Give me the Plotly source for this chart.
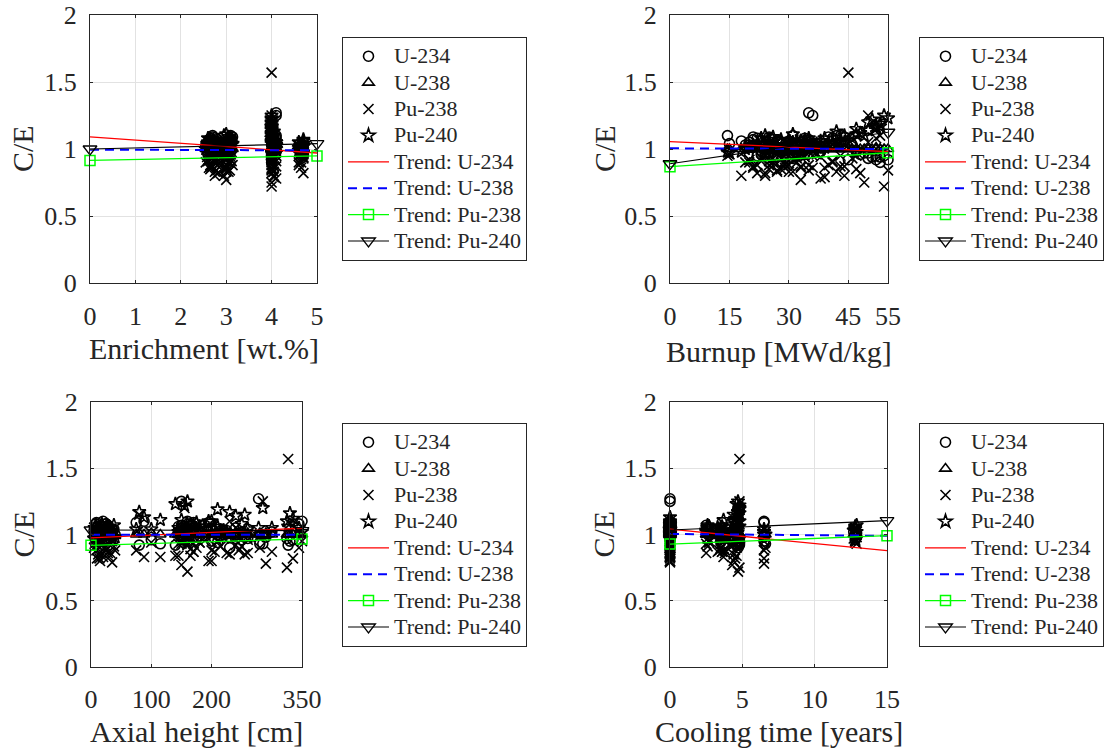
import plotly.graph_objects as go

# ---------------- data (shared samples) ----------------
enrichment = [2.6, 2.65, 2.7, 2.75, 2.8, 2.6, 2.7, 2.65, 2.8, 2.7, 2.75, 2.6, 2.8,
              3.0, 3.05, 3.1, 3.0, 2.95, 3.1, 3.0, 3.05, 3.0, 3.1, 3.0,
              4.0, 4.0, 4.1, 4.1, 4.0, 4.0, 4.0, 4.05, 4.0, 4.1, 4.0, 4.0, 4.0, 4.05, 4.0, 4.0, 4.1, 4.0, 4.0,
              4.6, 4.7, 4.65, 4.7, 4.6, 4.7, 4.65,
              2.7, 3.0,
              2.55, 2.62, 2.68, 2.72, 2.78, 2.85, 2.58, 2.66, 2.74, 2.82,
              2.92, 3.02, 3.08, 3.12, 2.98, 3.04, 3.14,
              4.0, 4.05, 4.0, 4.1, 4.0, 4.05, 4.0, 4.1, 4.0,
              4.6, 4.7, 4.65, 4.7]
burnup = [20, 22, 24, 18, 26, 28, 30, 25, 32, 21, 27, 23, 35,
          33, 30, 31, 29, 24, 34, 36, 26, 31, 37, 28,
          45, 54, 36, 35, 50, 52, 48, 42, 41, 43, 51, 53, 47, 44, 40, 49, 38, 55, 39,
          25, 28, 32, 22, 30, 34, 26,
          14.5, 15,
          19, 21, 23, 25, 27, 29, 31, 33, 20, 24,
          27, 32, 35, 29, 33, 38, 25,
          46, 43, 50, 41, 53, 39, 47, 44, 52,
          20, 33, 29, 36]
height = [10, 25, 35, 15, 150, 160, 210, 230, 5, 170, 30, 250, 200,
          150, 20, 160, 40, 200, 8, 225, 175, 115, 260, 12,
          327, 160, 150, 278, 285, 80, 335, 88, 345, 350, 155, 230, 255, 195, 75, 325, 290, 140, 18,
          30, 170, 220, 10, 245, 100, 280,
          20, 35,
          22, 28, 6, 38, 145, 165, 180, 205, 240, 14,
          26, 145, 165, 215, 32, 180, 9,
          160, 170, 240, 25, 210, 35, 150, 300, 330,
          15, 190, 260, 155]
cooling = [0, 0, 0, 0, 2.5, 2.6, 2.7, 0, 3.5, 3.6, 0, 0, 3.8,
           4.3, 0, 0, 3.4, 4.4, 0, 2.5, 0, 3.7, 4.6, 0,
           4.8, 4.7, 0, 0, 4.8, 4.7, 4.5, 0, 4.6, 6.5, 4.8, 4.7, 4.4, 0, 6.5, 4.8, 6.5, 4.6, 0,
           12.8, 12.9, 12.7, 6.5, 0, 12.8, 6.6,
           0, 0,
           0, 0, 0, 2.6, 0, 3.5, 0, 3.6, 0, 0,
           0, 3.5, 0, 4.2, 0, 2.7, 0,
           4.5, 0, 4.7, 0, 4.8, 0, 4.6, 3.3, 4.8,
           0, 12.8, 3.8, 12.9]
ce_u234 = [1.05, 1.08, 1.02, 1.06, 1.07, 1.04, 1.00, 0.98, 1.03, 1.09, 1.01, 0.96, 1.05,
           1.02, 1.06, 1.10, 1.00, 0.95, 1.08, 1.03, 0.98, 0.93, 1.04, 1.01,
           0.92, 0.95, 1.25, 1.27, 0.93, 0.92, 0.96, 1.10, 1.08, 1.10, 0.94, 0.90, 0.98, 1.09, 1.09, 0.97, 0.98, 0.92, 1.06,
           1.00, 0.98, 1.02, 0.95, 1.01, 0.96, 0.93,
           1.10, 1.04,
           1.03, 1.07, 0.99, 1.04, 1.06, 1.01, 1.02, 0.97, 1.05, 1.00,
           1.05, 1.02, 1.07, 0.99, 1.03, 1.01, 1.09,
           1.03, 1.05, 0.97, 1.08, 0.94, 1.04, 0.99, 1.02, 0.95,
           1.03, 0.99, 0.97, 1.01]
ce_u238 = [1.00, 1.00, 0.99, 1.00, 1.00, 1.01, 1.00, 0.99, 1.00, 1.00, 1.00, 1.00, 1.01,
           1.00, 1.00, 1.00, 0.99, 1.00, 1.00, 1.00, 1.00, 1.00, 1.01, 1.00,
           1.00, 1.00, 1.00, 1.00, 1.00, 1.01, 1.00, 1.00, 1.00, 1.00, 1.00, 1.00, 1.00, 1.00, 1.00, 1.00, 1.00, 1.00, 1.00,
           1.00, 1.00, 1.00, 1.00, 1.00, 1.01, 1.00,
           1.00, 1.00,
           1.00, 1.00, 1.00, 1.00, 1.00, 1.00, 1.00, 1.00, 1.00, 1.00,
           1.00, 1.00, 1.00, 1.00, 1.00, 1.00, 1.00,
           1.00, 1.00, 1.00, 1.00, 1.00, 1.00, 1.00, 1.00, 1.00,
           1.00, 1.00, 1.00, 1.00]
ce_pu238 = [0.92, 0.88, 0.95, 0.80, 0.93, 0.97, 0.95, 0.85, 0.90, 0.87, 0.83, 0.91, 0.88,
            0.77, 0.83, 0.92, 0.88, 0.80, 0.94, 0.86, 0.90, 0.83, 0.96, 0.85,
            1.57, 0.72, 0.95, 0.98, 1.25, 1.15, 0.82, 0.83, 0.90, 0.95, 1.20, 1.10, 0.85, 0.80, 0.88, 0.75, 0.78, 0.84, 0.86,
            0.95, 0.93, 0.97, 0.82, 0.88, 0.94, 0.90,
            0.95, 0.96,
            0.90, 0.86, 0.93, 0.91, 0.84, 0.89, 0.94, 0.87, 0.92, 0.82,
            0.89, 0.93, 0.84, 0.91, 0.86, 0.94, 0.88,
            0.93, 0.87, 1.05, 0.91, 1.00, 0.79, 0.95, 0.87, 1.08,
            0.90, 0.96, 0.86, 0.98]
ce_pu240 = [1.02, 1.04, 1.01, 0.98, 1.03, 1.05, 1.06, 1.00, 0.97, 1.02, 0.99, 1.08, 1.01,
            0.96, 1.03, 1.05, 0.98, 1.10, 1.07, 1.02, 1.09, 1.11, 1.04, 1.00,
            1.06, 1.25, 1.03, 1.05, 1.20, 1.17, 1.12, 1.13, 1.05, 1.02, 1.22, 1.17, 1.15, 1.10, 1.04, 1.10, 1.00, 1.23, 1.08,
            1.05, 1.07, 1.03, 1.02, 0.99, 1.04, 1.00,
            0.98, 0.97,
            1.00, 1.03, 1.05, 1.07, 1.02, 0.99, 1.04, 1.06, 1.01, 0.97,
            1.02, 1.05, 1.08, 1.03, 1.00, 1.06, 1.04,
            1.08, 1.06, 1.14, 1.03, 1.19, 1.01, 1.11, 1.05, 1.16,
            1.01, 1.06, 0.98, 1.02]

# trend lines (values at the ends of each x range)
trend_enr_x = [0, 5]
trend_enr = {"U-234": [1.09, 0.97], "U-238": [0.995, 0.99], "Pu-238": [0.915, 0.948], "Pu-240": [1.00, 1.04]}
trend_bu_x = [0, 55]
trend_bu = {"U-234": [1.055, 0.98], "U-238": [1.005, 1.00], "Pu-238": [0.868, 0.972], "Pu-240": [0.89, 1.125]}
trend_h_x = [0, 350]
trend_h = {"U-234": [0.974, 1.047], "U-238": [0.998, 0.998], "Pu-238": [0.918, 0.966], "Pu-240": [1.034, 1.03]}
trend_ct_x = [0, 15]
trend_ct = {"U-234": [1.04, 0.878], "U-238": [1.004, 0.99], "Pu-238": [0.928, 0.991], "Pu-240": [1.034, 1.104]}

nuclides = ["U-234", "U-238", "Pu-238", "Pu-240"]
ce_values = [ce_u234, ce_u238, ce_pu238, ce_pu240]

x_titles = ["Enrichment [wt.%]", "Burnup [MWd/kg]", "Axial height [cm]", "Cooling time [years]"]
x_ranges = [[0, 5], [0, 55], [0, 350], [0, 15]]
x_tickvals = [[0, 1, 2, 3, 4, 5], [0, 15, 30, 45, 55], [0, 100, 200, 350], [0, 5, 10, 15]]
y_tickvals = [0, 0.5, 1, 1.5, 2]
y_ticktext = ["0", "0.5", "1", "1.5", "2"]

# ---------------- layout geometry (pixels) ----------------
W, H = 1105, 752
FONT = "Liberation Serif, Times New Roman, Times, serif"
TXT = "#262626"
panels = [
    dict(x0=90, x1=317, y0=15, y1=283, leg=(342, 37), xt=(203.5, 348), yt=(23, 149), sx=enrichment, tx=trend_enr_x, tr=trend_enr),
    dict(x0=670, x1=888, y0=15, y1=283, leg=(919, 37), xt=(779, 351), yt=(605, 149), sx=burnup, tx=trend_bu_x, tr=trend_bu),
    dict(x0=91, x1=302, y0=402, y1=667, leg=(342, 423), xt=(196.5, 731.5), yt=(23, 534.5), sx=height, tx=trend_h_x, tr=trend_h),
    dict(x0=670, x1=887, y0=402, y1=667, leg=(919, 423), xt=(778.5, 731.5), yt=(603, 534.5), sx=cooling, tx=trend_ct_x, tr=trend_ct),
]

symbols = ["circle-open", "triangle-up-open", "x-thin-open", "star-open"]


def lname(s):
    return '<span style="font-size:22px">' + s + "</span>"


fig = go.Figure()
annotations = []
for i, p in enumerate(panels):
    k = "" if i == 0 else str(i + 1)
    xa, ya = "x" + k, "y" + k
    leg = "legend" + k
    for name, vals, sym in zip(nuclides, ce_values, symbols):
        fig.add_trace(go.Scatter(
            x=p["sx"], y=vals, mode="markers", name=lname(name), xaxis=xa, yaxis=ya, legend=leg,
            cliponaxis=False,
            marker=dict(symbol=sym, size=10, color="black", line=dict(color="black", width=1.6)),
        ))
    tr = p["tr"]
    fig.add_trace(go.Scatter(x=p["tx"], y=tr["U-234"], mode="lines", name=lname("Trend: U-234"),
                             xaxis=xa, yaxis=ya, legend=leg, cliponaxis=False,
                             line=dict(color="#ff0000", width=1.3)))
    fig.add_trace(go.Scatter(x=p["tx"], y=tr["U-238"], mode="lines", name=lname("Trend: U-238"),
                             xaxis=xa, yaxis=ya, legend=leg, cliponaxis=False,
                             line=dict(color="#0000ff", width=2, dash="9px,6px")))
    fig.add_trace(go.Scatter(x=p["tx"], y=tr["Pu-238"], mode="lines+markers", name=lname("Trend: Pu-238"),
                             xaxis=xa, yaxis=ya, legend=leg, cliponaxis=False,
                             line=dict(color="#00ff00", width=1.3),
                             marker=dict(symbol="square-open", size=10, color="#00ff00", line=dict(width=1.5, color="#00ff00"))))
    fig.add_trace(go.Scatter(x=p["tx"], y=tr["Pu-240"], mode="lines+markers", name=lname("Trend: Pu-240"),
                             xaxis=xa, yaxis=ya, legend=leg, cliponaxis=False,
                             line=dict(color="black", width=1.2),
                             marker=dict(symbol="triangle-down-open", size=12, color="black", line=dict(width=1.3, color="black"))))

    axis_common = dict(showline=True, mirror="ticks", linecolor=TXT, linewidth=1.2,
                       showgrid=True, gridcolor="#e2e2e2", gridwidth=1, zeroline=False,
                       ticks="inside", ticklen=3, tickcolor=TXT, automargin=False,
                       tickfont=dict(family=FONT, size=26, color=TXT))
    fig.layout["xaxis" + k] = dict(domain=[p["x0"] / W, p["x1"] / W], anchor=ya, range=x_ranges[i],
                                   tickvals=x_tickvals[i], ticklabelstandoff=10 if i < 2 else 9,
                                   **axis_common)
    fig.layout["yaxis" + k] = dict(domain=[1 - p["y1"] / H, 1 - p["y0"] / H], anchor=xa, range=[0, 2],
                                   tickvals=y_tickvals, ticktext=y_ticktext, ticklabelstandoff=7,
                                   **axis_common)
    fig.layout[leg] = dict(x=p["leg"][0] / W, y=1 - p["leg"][1] / H, xanchor="left", yanchor="top",
                           xref="paper", yref="paper", itemwidth=41,
                           bgcolor="white", bordercolor=TXT, borderwidth=1, tracegroupgap=0,
                           font=dict(family=FONT, size=18, color=TXT))
    annotations.append(dict(x=p["xt"][0] / W, y=1 - p["xt"][1] / H, xref="paper", yref="paper",
                            text=x_titles[i], showarrow=False, xanchor="center", yanchor="middle",
                            font=dict(family=FONT, size=30, color=TXT)))
    annotations.append(dict(x=p["yt"][0] / W, y=1 - p["yt"][1] / H, xref="paper", yref="paper",
                            text="C/E", showarrow=False, xanchor="center", yanchor="middle", textangle=-90,
                            font=dict(family=FONT, size=30, color=TXT)))

fig.update_layout(width=W, height=H, margin=dict(l=0, r=0, t=0, b=0, autoexpand=False),
                  paper_bgcolor="white", plot_bgcolor="white",
                  annotations=annotations, showlegend=True)

fig.write_html("out.html")
